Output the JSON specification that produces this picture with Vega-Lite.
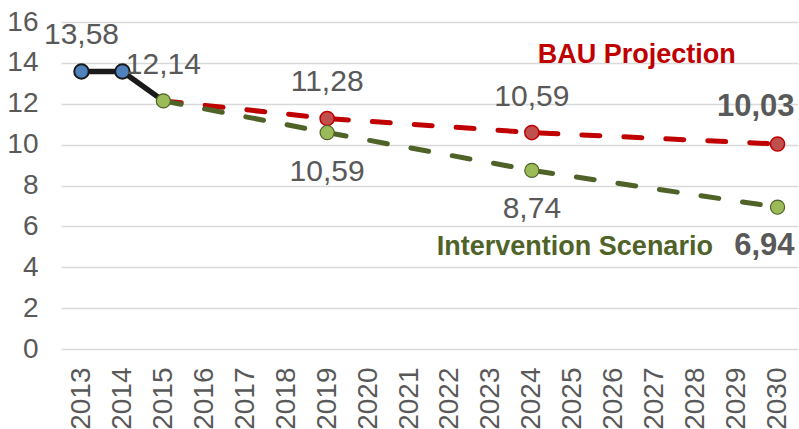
{
  "$schema": "https://vega.github.io/schema/vega-lite/v6.json",
  "autosize": {"type": "none"},
  "width": 737,
  "height": 327,
  "padding": {"left": 61, "top": 22, "right": 1, "bottom": 80},
  "background": "white",
  "config": {
    "view": {"stroke": null},
    "font": "Liberation Sans",
    "locale": {"number": {"decimal": ",", "thousands": ".", "grouping": [3], "currency": ["", " €"]}}
  },
  "datasets": {
    "series": [
      {"year": 2013, "value": 13.58, "series": "Historical"},
      {"year": 2014, "value": 13.58, "series": "Historical"},
      {"year": 2015, "value": 12.14, "series": "Historical"},
      {"year": 2015, "value": 12.14, "series": "BAU"},
      {"year": 2019, "value": 11.28, "series": "BAU"},
      {"year": 2024, "value": 10.59, "series": "BAU"},
      {"year": 2030, "value": 10.03, "series": "BAU"},
      {"year": 2015, "value": 12.14, "series": "Intervention"},
      {"year": 2019, "value": 10.59, "series": "Intervention"},
      {"year": 2024, "value": 8.74, "series": "Intervention"},
      {"year": 2030, "value": 6.94, "series": "Intervention"}
    ],
    "notes": [
      {"name": "BAU Projection", "year": 2026.56, "value": 14.4, "series": "BAU"},
      {"name": "Intervention Scenario", "year": 2025.05, "value": 5.0, "series": "Intervention"}
    ]
  },
  "data": {"name": "series"},
  "encoding": {
    "x": {
      "field": "year", "type": "quantitative",
      "scale": {"domain": [2012.5, 2030.5], "nice": false, "zero": false},
      "axis": {
        "values": [2013,2014,2015,2016,2017,2018,2019,2020,2021,2022,2023,2024,2025,2026,2027,2028,2029,2030],
        "format": "d", "labelAngle": -90, "grid": false, "domain": false, "ticks": false, "tickSize": 0,
        "labelPadding": 18, "labelFontSize": 28, "labelColor": "#595959", "labelFont": "Liberation Sans",
        "labelFlush": false, "labelOverlap": false, "title": null
      }
    },
    "y": {
      "field": "value", "type": "quantitative",
      "scale": {"domain": [0, 16], "nice": false},
      "axis": {
        "values": [0,2,4,6,8,10,12,14,16],
        "grid": true, "gridColor": "#D9D9D9", "gridWidth": 1.3, "domain": false, "ticks": false, "tickSize": 0,
        "labelPadding": 23, "labelFontSize": 28, "labelColor": "#595959", "labelFont": "Liberation Sans",
        "title": null
      }
    }
  },
  "layer": [
    {
      "transform": [{"filter": "datum.series == 'BAU'"}],
      "mark": {"type": "line", "color": "#C00000", "strokeWidth": 5, "strokeDash": [18, 24], "strokeCap": "round"}
    },
    {
      "transform": [{"filter": "datum.series == 'Intervention'"}],
      "mark": {"type": "line", "color": "#4F6228", "strokeWidth": 5, "strokeDash": [18, 24], "strokeCap": "round"}
    },
    {
      "transform": [{"filter": "datum.series == 'Historical'"}],
      "mark": {"type": "line", "color": "#1A1A1A", "strokeWidth": 5.5}
    },
    {
      "transform": [{"filter": "datum.series == 'BAU' && datum.year > 2015"}],
      "mark": {"type": "point", "shape": "circle", "filled": true, "size": 200, "fill": "#C0504D", "stroke": "#C00000", "strokeWidth": 1.5, "opacity": 1}
    },
    {
      "transform": [{"filter": "datum.series == 'Historical' && datum.year < 2015"}],
      "mark": {"type": "point", "shape": "circle", "filled": true, "size": 210, "fill": "#4F81BD", "stroke": "#1A1A1A", "strokeWidth": 2, "opacity": 1}
    },
    {
      "transform": [{"filter": "datum.series == 'Intervention'"}],
      "mark": {"type": "point", "shape": "circle", "filled": true, "size": 200, "fill": "#9BBB59", "stroke": "#4F6228", "strokeWidth": 1.2, "opacity": 1}
    },
    {
      "transform": [{"filter": "(datum.series == 'BAU' && (datum.year == 2019 || datum.year == 2024)) || (datum.series == 'Historical' && datum.year != 2014)"}],
      "mark": {"type": "text", "fontSize": 30, "color": "#595959", "dy": -36, "align": "center", "baseline": "middle"},
      "encoding": {"text": {"field": "value", "type": "quantitative", "format": ".2f"}}
    },
    {
      "transform": [{"filter": "datum.series == 'Intervention' && (datum.year == 2019 || datum.year == 2024)"}],
      "mark": {"type": "text", "fontSize": 30, "color": "#595959", "dy": 39, "align": "center", "baseline": "middle"},
      "encoding": {"text": {"field": "value", "type": "quantitative", "format": ".2f"}}
    },
    {
      "transform": [{"filter": "datum.series == 'BAU' && datum.year == 2030"}],
      "mark": {"type": "text", "fontSize": 31, "fontWeight": "bold", "color": "#595959", "dy": -37, "dx": 17, "align": "right", "baseline": "middle"},
      "encoding": {"text": {"field": "value", "type": "quantitative", "format": ".2f"}}
    },
    {
      "transform": [{"filter": "datum.series == 'Intervention' && datum.year == 2030"}],
      "mark": {"type": "text", "fontSize": 31, "fontWeight": "bold", "color": "#595959", "dy": 39, "dx": 17, "align": "right", "baseline": "middle"},
      "encoding": {"text": {"field": "value", "type": "quantitative", "format": ".2f"}}
    },
    {
      "data": {"name": "notes"},
      "mark": {"type": "text", "fontSize": 27, "fontWeight": "bold", "align": "center", "baseline": "middle"},
      "encoding": {
        "text": {"field": "name", "type": "nominal"},
        "color": {"field": "series", "type": "nominal", "scale": {"domain": ["BAU", "Intervention"], "range": ["#C00000", "#4F6228"]}, "legend": null}
      }
    }
  ]
}
